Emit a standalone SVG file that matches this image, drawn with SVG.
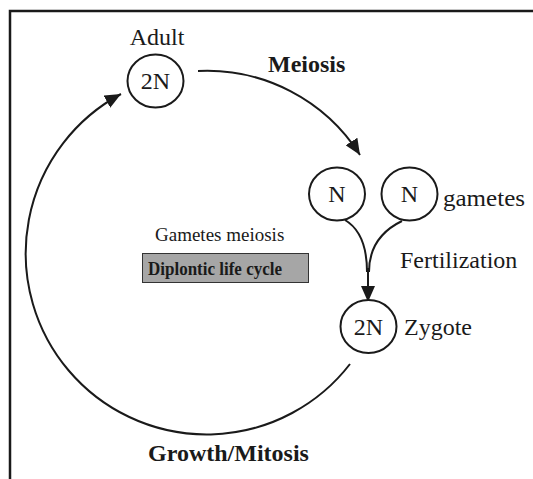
<svg xmlns="http://www.w3.org/2000/svg" width="533" height="479" viewBox="0 0 533 479">
<style>
.node ellipse{fill:#fff;stroke:#1a1a1a;stroke-width:2}
text{font-family:"Liberation Serif","Times New Roman",serif;fill:#1a1a1a}
.lbl{font-size:24px}
.in{font-size:24px;text-anchor:middle}
.b{font-weight:bold}
.conn path{fill:none;stroke:#1a1a1a;stroke-width:2}
</style>
<defs>
<marker id="ah" markerUnits="userSpaceOnUse" markerWidth="17" markerHeight="14" refX="16" refY="7" orient="auto">
<path d="M0,0 L16,7 L0,14 z" fill="#1a1a1a"/>
</marker>
</defs>
<rect width="533" height="479" fill="#fff"/>
<path d="M10 479 V11 H533" fill="none" stroke="#1a1a1a" stroke-width="2.5"/>

<g class="conn" id="connectors">
<path d="M198 71 A181 181 0 0 1 360 155" marker-end="url(#ah)"/>
<path d="M350 364 A181 181 0 1 1 121 94" marker-end="url(#ah)"/>
<path d="M345 220 Q367 233 367 272"/>
<path d="M402 221 Q369 237 369 272"/>
<path d="M368 268 L368 302" marker-end="url(#ah)"/>
</g>

<g class="node" id="adult">
<ellipse cx="155.5" cy="81" rx="28" ry="26.5"/>
<text class="in" x="155.5" y="89">2N</text>
<text class="lbl" x="157" y="45" text-anchor="middle">Adult</text>
</g>
<g class="node" id="gamete1">
<ellipse cx="337" cy="194" rx="28" ry="26.5"/>
<text class="in" x="337" y="202">N</text>
</g>
<g class="node" id="gamete2">
<ellipse cx="409.5" cy="194" rx="28" ry="26.5"/>
<text class="in" x="409.5" y="202">N</text>
<text class="lbl" x="443" y="206" textLength="82" lengthAdjust="spacingAndGlyphs">gametes</text>
</g>
<g class="node" id="zygote">
<ellipse cx="368.5" cy="326.5" rx="28" ry="26.5"/>
<text class="in" x="368.5" y="335">2N</text>
<text class="lbl" x="404" y="335">Zygote</text>
</g>

<g id="labels">
<text class="lbl b" x="268" y="72">Meiosis</text>
<text class="lbl" x="400" y="268">Fertilization</text>
<text x="155" y="241" font-size="19">Gametes meiosis</text>
<text class="lbl b" x="148" y="461">Growth/Mitosis</text>
</g>
<g id="title">
<rect x="142.5" y="253.5" width="166" height="29" fill="#a6a6a6" stroke="#333" stroke-width="1"/>
<text class="b" x="148" y="275" font-size="19" textLength="134" lengthAdjust="spacingAndGlyphs">Diplontic life cycle</text>
</g>
</svg>
